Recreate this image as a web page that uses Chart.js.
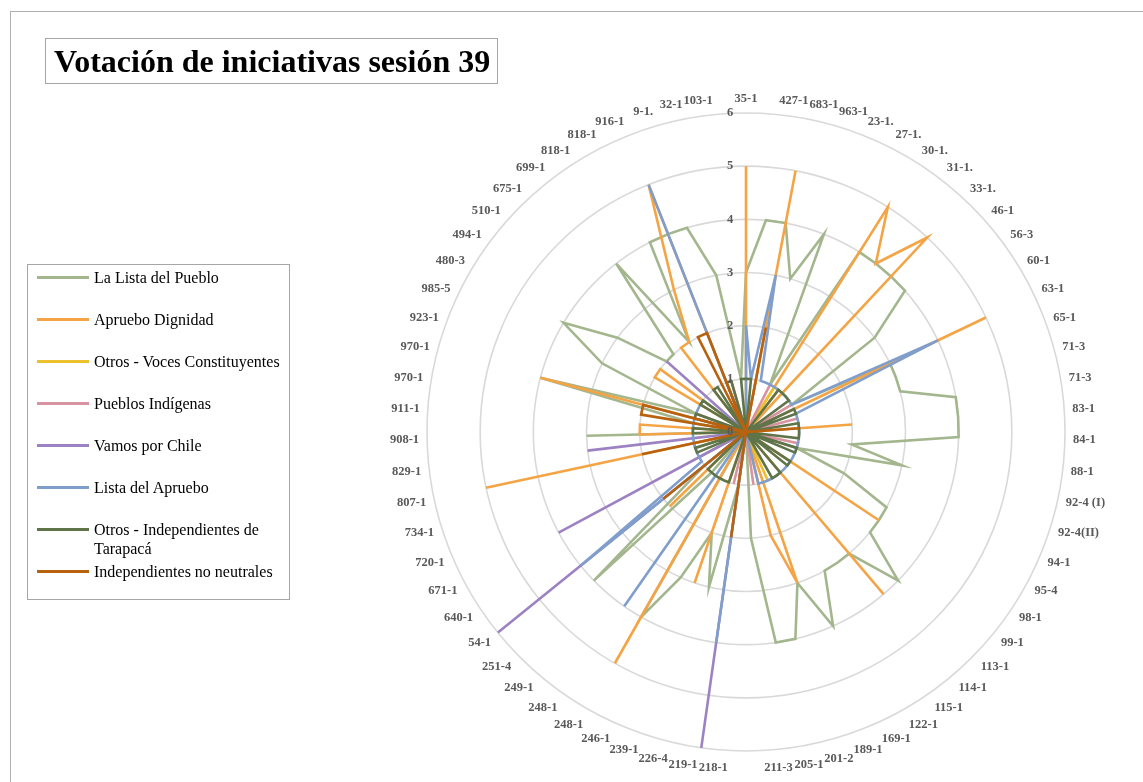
<!DOCTYPE html>
<html>
<head>
<meta charset="utf-8">
<script src="https://cdn.jsdelivr.net/npm/chart.js@4/dist/chart.umd.min.js"></script>
<style>
  html, body { margin: 0; padding: 0; background: #ffffff; }
  body { width: 1143px; height: 782px; position: relative; overflow: hidden; font-family: "Liberation Serif", "Times New Roman", serif; }
  #frame { position: absolute; left: 10px; top: 11px; width: 1200px; height: 800px; border-left: 1px solid #b0b0b0; border-top: 1px solid #b0b0b0; }
  #chart { position: absolute; left: 0; top: 0; }
  #title { position: absolute; left: 45px; top: 38px; width: 451px; height: 44px; border: 1px solid #a6a6a6; box-sizing: content-box; }
  #title span { position: absolute; left: 8px; top: 3px; font-size: 32px; font-weight: bold; color: #000; white-space: nowrap; line-height: 38px; }
  #legend { position: absolute; left: 27px; top: 264px; width: 261px; height: 334px; border: 1px solid #a6a6a6; }
  .sw { position: absolute; left: 9px; width: 52px; height: 3px; }
  .lb { position: absolute; left: 66px; font-size: 16px; line-height: 19px; color: #000; white-space: nowrap; }
</style>
</head>
<body>
<div id="frame"></div>
<canvas id="chart" width="1143" height="782"></canvas>
<div id="title"><span>Votación de iniciativas sesión 39</span></div>
<div id="legend"></div>
<script>
// Iniciativas votadas (eje angular, sentido horario desde arriba)
const iniciativas = [
  "35-1", "427-1", "683-1", "963-1", "23-1.", "27-1.", "30-1.", "31-1.", "33-1.", "46-1",
  "56-3", "60-1", "63-1", "65-1", "71-3", "71-3", "83-1", "84-1", "88-1", "92-4 (I)",
  "92-4(II)", "94-1", "95-4", "98-1", "99-1", "113-1", "114-1", "115-1", "122-1", "169-1",
  "189-1", "201-2", "205-1", "211-3", "218-1", "219-1", "226-4", "239-1", "246-1", "248-1",
  "248-1", "249-1", "251-4", "54-1", "640-1", "671-1", "720-1", "734-1", "807-1", "829-1",
  "908-1", "911-1", "970-1", "970-1", "923-1", "985-5", "480-3", "494-1", "510-1", "675-1",
  "699-1", "818-1", "818-1", "916-1", "9-1.", "32-1", "103-1"
];

const escala = [0, 1, 2, 3, 4, 5, 6];

const listaDelPueblo = [
  3, 4, 4, 3, 4, 1, 4, 4, 4, 4,
  3, 1, 3, 3, 3, 4, 4, 4, 2, 3,
  1, 2, 3, 3, 3, 4, 3, 3, 3, 4,
  3, 4, 4, 2, 0, 1, 3, 2, 3, 4,
  0, 1, 4, 1, 0, 1, 0, 1, 1, 0,
  3, 0, 1, 4, 1, 3, 4, 3, 2, 2,
  4, 2, 4, 4, 4, 3, 1
];

const aprueboDignidad = [
  5, 0, 5, 0, 0, 0, 5, 4, 5, 0,
  0, 0, 5, 0, 0, 0, 2, 0, 0, 0,
  0, 0, 0, 3, 0, 0, 4, 0, 0, 0,
  3, 2, 0, 0, 0, 0, 0, 3, 0, 5,
  0, 0, 2, 0, 0, 0, 0, 0, 5, 0,
  2, 2, 0, 4, 0, 0, 2, 2, 0, 0,
  2, 2, 3, 5, 0, 0, 0
];

const vocesConstituyentes = [
  0, 0, 0, 0, 0, 0, 1, 1, 0, 0,
  0, 0, 0, 0, 0, 0, 0, 0, 0, 0,
  0, 0, 0, 0, 0, 0, 0, 0, 0, 1,
  0, 0, 0, 0, 0, 0, 0, 0, 0, 0,
  0, 0, 0, 0, 0, 0, 0, 0, 0, 0,
  0, 0, 0, 0, 0, 0, 0, 0, 0, 0,
  0, 0, 0, 0, 0, 0, 0
];

const pueblosIndigenas = [
  0, 0, 1, 0, 0, 1, 0, 0, 0, 0,
  0, 1, 0, 0, 1, 0, 0, 0, 0, 1,
  1, 0, 0, 0, 0, 0, 0, 0, 0, 0,
  0, 0, 1, 0, 0, 0, 1, 0, 0, 0,
  0, 0, 0, 0, 0, 0, 0, 0, 0, 0,
  0, 0, 0, 0, 1, 0, 0, 0, 0, 0,
  0, 0, 0, 0, 1, 0, 0
];

const vamosPorChile = [
  0, 0, 0, 0, 0, 0, 0, 0, 0, 0,
  0, 0, 0, 0, 0, 0, 0, 0, 0, 0,
  0, 0, 0, 0, 0, 0, 0, 0, 0, 0,
  0, 0, 0, 0, 0, 6, 0, 0, 0, 0,
  0, 0, 0, 6, 0, 4, 0, 0, 0, 3,
  0, 0, 0, 0, 0, 0, 0, 0, 2, 0,
  0, 0, 0, 0, 0, 0, 0
];

const listaDelApruebo = [
  2, 1, 3, 1, 1, 1, 1, 1, 1, 1,
  1, 1, 4, 1, 1, 1, 1, 1, 1, 1,
  1, 1, 1, 1, 1, 1, 1, 1, 1, 1,
  1, 1, 0, 0, 0, 4, 0, 0, 0, 0,
  4, 0, 0, 4, 1, 1, 1, 1, 1, 1,
  1, 1, 1, 1, 1, 1, 1, 1, 0, 0,
  0, 0, 0, 5, 0, 0, 0
];

const independientesTarapaca = [
  1, 1, 0, 0, 0, 0, 0, 1, 1, 1,
  1, 0, 1, 1, 0, 1, 1, 1, 1, 0,
  1, 1, 0, 1, 1, 0, 1, 1, 1, 0,
  0, 0, 0, 0, 0, 0, 0, 1, 1, 1,
  1, 1, 1, 0, 0, 0, 1, 1, 0, 0,
  1, 1, 0, 1, 1, 0, 1, 1, 0, 0,
  1, 1, 0, 1, 1, 0, 1
];

const independientesNoNeutrales = [
  0, 0, 2, 0, 0, 0, 0, 0, 0, 0,
  0, 0, 0, 0, 0, 0, 1, 0, 0, 0,
  0, 0, 0, 0, 0, 0, 0, 0, 0, 0,
  0, 0, 0, 0, 0, 2, 0, 0, 0, 0,
  0, 0, 0, 2, 0, 0, 0, 0, 2, 0,
  0, 0, 2, 2, 0, 0, 0, 0, 0, 0,
  0, 0, 2, 2, 0, 0, 0
];

const series = [
  { nombre: "La Lista del Pueblo", valores: listaDelPueblo, color: "#a3b68d" },
  { nombre: "Apruebo Dignidad", valores: aprueboDignidad, color: "#f5a445" },
  { nombre: "Otros - Voces Constituyentes", valores: vocesConstituyentes, color: "#edc02e" },
  { nombre: "Pueblos Indígenas", valores: pueblosIndigenas, color: "#d9929f" },
  { nombre: "Vamos por Chile", valores: vamosPorChile, color: "#9c82c3" },
  { nombre: "Lista del Apruebo", valores: listaDelApruebo, color: "#7f9ecb" },
  { nombre: "Otros - Independientes de Tarapacá", etiqueta: ["Otros - Independientes de", "Tarapacá"], valores: independientesTarapaca, color: "#5f7549" },
  { nombre: "Independientes no neutrales", valores: independientesNoNeutrales, color: "#b8620f" }
];

// Leyenda a la izquierda
const legendEl = document.getElementById("legend");
const legendY = [12, 54, 96, 138, 180, 222, 264, 306];
series.forEach((s, i) => {
  const sw = document.createElement("div");
  sw.className = "sw";
  sw.style.top = (legendY[i] - 1) + "px";
  sw.style.background = s.color;
  legendEl.appendChild(sw);
  const lb = document.createElement("div");
  lb.className = "lb";
  const lines = s.etiqueta || [s.nombre];
  lb.style.top = (legendY[i] - 9) + "px";
  lines.forEach((t, k) => {
    if (k) lb.appendChild(document.createElement("br"));
    lb.appendChild(document.createTextNode(t));
  });
  legendEl.appendChild(lb);
});

const labelFont = 'bold 12.5px "Liberation Serif", "Times New Roman", serif';

// Etiquetas de categoría y de escala dibujadas alrededor del radar
const radarText = {
  id: "radarText",
  afterDatasetsDraw(chart) {
    const scale = chart.scales.r;
    const ctx = chart.ctx;
    ctx.save();
    ctx.font = labelFont;
    ctx.fillStyle = "#595959";
    ctx.textBaseline = "middle";
    iniciativas.forEach((lab, i) => {
      const p = scale.getPointPosition(i, scale.drawingArea);
      const s = Math.cos(p.angle);   // componente horizontal
      const c = -Math.sin(p.angle);  // componente vertical (hacia arriba)
      let x = p.x;
      if (Math.abs(s) < 0.02) {
        ctx.textAlign = "center";
      } else if (s > 0) {
        ctx.textAlign = "left";
        x += 3 + 5 * Math.abs(s);
      } else {
        ctx.textAlign = "right";
        x -= 3 + 5 * Math.abs(s);
      }
      const y = p.y - c * (c > 0 ? 14 : 17);
      ctx.fillText(lab, x, y);
    });
    ctx.textAlign = "center";
    escala.forEach(v => {
      const y = scale.yCenter - scale.getDistanceFromCenterForValue(v);
      ctx.fillText(String(v), scale.xCenter - 16, y);
    });
    ctx.restore();
  }
};

new Chart(document.getElementById("chart"), {
  type: "radar",
  data: {
    labels: iniciativas,
    datasets: series.map((s, i) => ({
      label: s.nombre,
      data: s.valores,
      borderColor: s.color,
      backgroundColor: s.color,
      borderWidth: 2.6,
      fill: false,
      pointRadius: 0,
      pointHoverRadius: 0,
      tension: 0,
      order: series.length - i
    }))
  },
  options: {
    responsive: false,
    devicePixelRatio: 1,
    animation: false,
    layout: { padding: { left: 427, top: 113, right: 78, bottom: 31 } },
    plugins: { legend: { display: false }, tooltip: { enabled: false } },
    scales: {
      r: {
        min: 0,
        max: 6,
        ticks: { stepSize: 1, display: false },
        grid: { circular: true, color: "#d9d9d9", lineWidth: 1.6 },
        angleLines: { display: false },
        pointLabels: { display: false }
      }
    }
  },
  plugins: [radarText]
});
</script>
</body>
</html>
